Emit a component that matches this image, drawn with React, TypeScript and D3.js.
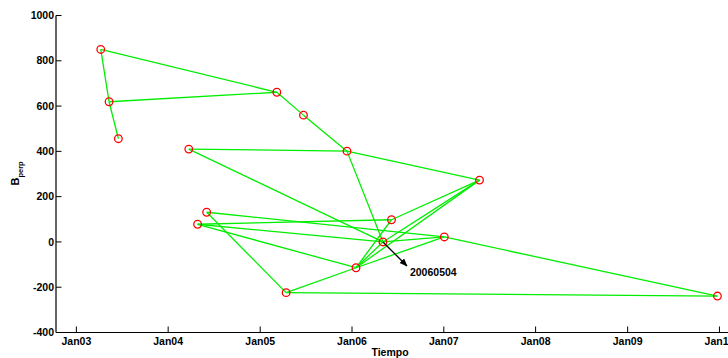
import React from "react";
import * as d3 from "d3";

const acqDates = [
  "2003-04-08", "2003-05-11", "2003-06-17", "2004-03-23", "2005-03-08", "2005-06-22",
  "2005-12-12", "2007-05-23", "2004-06-02", "2004-04-27", "2006-06-07", "2006-05-04",
  "2007-01-03", "2006-01-17", "2005-04-14", "2009-12-24",
];
const bperp = [850, 619, 456, 410, 661, 560, 401, 273, 131, 78, 98, 0, 22, -114, -224, -239];
const pairs: [number, number][] = [
  [0, 1], [0, 4], [1, 2], [1, 4], [4, 5], [5, 6], [3, 6], [3, 11], [6, 7], [6, 11],
  [7, 10], [7, 11], [7, 13], [8, 12], [8, 14], [9, 10], [9, 11], [9, 13], [10, 13],
  [11, 12], [11, 13], [12, 13], [13, 14], [14, 15], [12, 15],
];
const yTicks = [-400, -200, 0, 200, 400, 600, 800, 1000];
const xTickDates = ["2003-01-01", "2004-01-01", "2005-01-01", "2006-01-01", "2007-01-01", "2008-01-01", "2009-01-01", "2010-01-01"];
const xTickLabels = ["Jan03", "Jan04", "Jan05", "Jan06", "Jan07", "Jan08", "Jan09", "Jan10"];
const xDomain = ["2002-10-12", "2010-02-04"];
const yDomain = [-400, 1000];
const masterIndex = 11;
const masterLabel = "20060504";
const xTitle = "Tiempo";

const FONT = "'Liberation Sans', Arial, sans-serif";

export default function App() {
  const W = 728, H = 358;
  const left = 56, right = 728, top = 15.5, bottom = 332.5;
  const x = d3.scaleUtc().domain(xDomain.map((d) => new Date(d))).range([left, right]);
  const y = d3.scaleLinear().domain(yDomain).range([bottom, top]);
  const pts = acqDates.map((d, i) => ({ x: x(new Date(d)), y: y(bperp[i]) }));
  const line = d3.line<{ x: number; y: number }>().x((d) => d.x).y((d) => d.y);
  const m = pts[masterIndex];
  const ax = m.x + 24, ay = m.y + 24;
  return (
    <svg width={W} height={H} style={{ position: "absolute", left: 0, top: 0, background: "#fff" }} fontFamily={FONT}>
      <defs>
        <marker id="arr" viewBox="0 0 10 10" refX="9" refY="5" markerWidth="8" markerHeight="8" orient="auto" markerUnits="userSpaceOnUse">
          <path d="M0,1 L10,5 L0,9 z" fill="#000" />
        </marker>
      </defs>
      {pairs.map(([a, b], i) => (
        <path key={i} d={line([pts[a], pts[b]]) || ""} stroke="#00ee00" strokeWidth={1.3} fill="none" />
      ))}
      {pts.map((p, i) => (
        <circle key={i} cx={p.x} cy={p.y} r={3.8} fill="none" stroke="#ff0000" strokeWidth={1.3} />
      ))}
      <line x1={m.x} y1={m.y} x2={ax} y2={ay} stroke="#000" strokeWidth={1.3} markerEnd="url(#arr)" />
      <text x={ax + 3} y={ay + 10} fontSize={10.5} fontWeight="bold" fill="#000">{masterLabel}</text>
      {/* axes */}
      <line x1={left} y1={top} x2={left} y2={bottom} stroke="#000" strokeWidth={1.2} />
      <line x1={left} y1={bottom} x2={right} y2={bottom} stroke="#000" strokeWidth={1.2} />
      {yTicks.map((t) => (
        <g key={t}>
          <line x1={left} x2={left + 5.5} y1={y(t)} y2={y(t)} stroke="#000" strokeWidth={1} />
          <text x={left - 2} y={y(t)} dy="0.35em" textAnchor="end" fontSize={10.5} fontWeight="bold">{t}</text>
        </g>
      ))}
      {xTickDates.map((d, i) => {
        const px = x(new Date(d));
        return (
          <g key={d}>
            <line x1={px} x2={px} y1={bottom} y2={bottom - 6} stroke="#000" strokeWidth={1} />
            <text x={px} y={bottom + 12} textAnchor="middle" fontSize={10.5} fontWeight="bold">{xTickLabels[i]}</text>
          </g>
        );
      })}
      <text x={(left + right) / 2 - 2} y={355.5} textAnchor="middle" fontSize={10.5} fontWeight="bold">{xTitle}</text>
      <text transform="translate(18.5,185.5) rotate(-90)" fontSize={11} fontWeight="bold">
        B<tspan dy={4} fontSize={7.5}>perp</tspan>
      </text>
    </svg>
  );
}
